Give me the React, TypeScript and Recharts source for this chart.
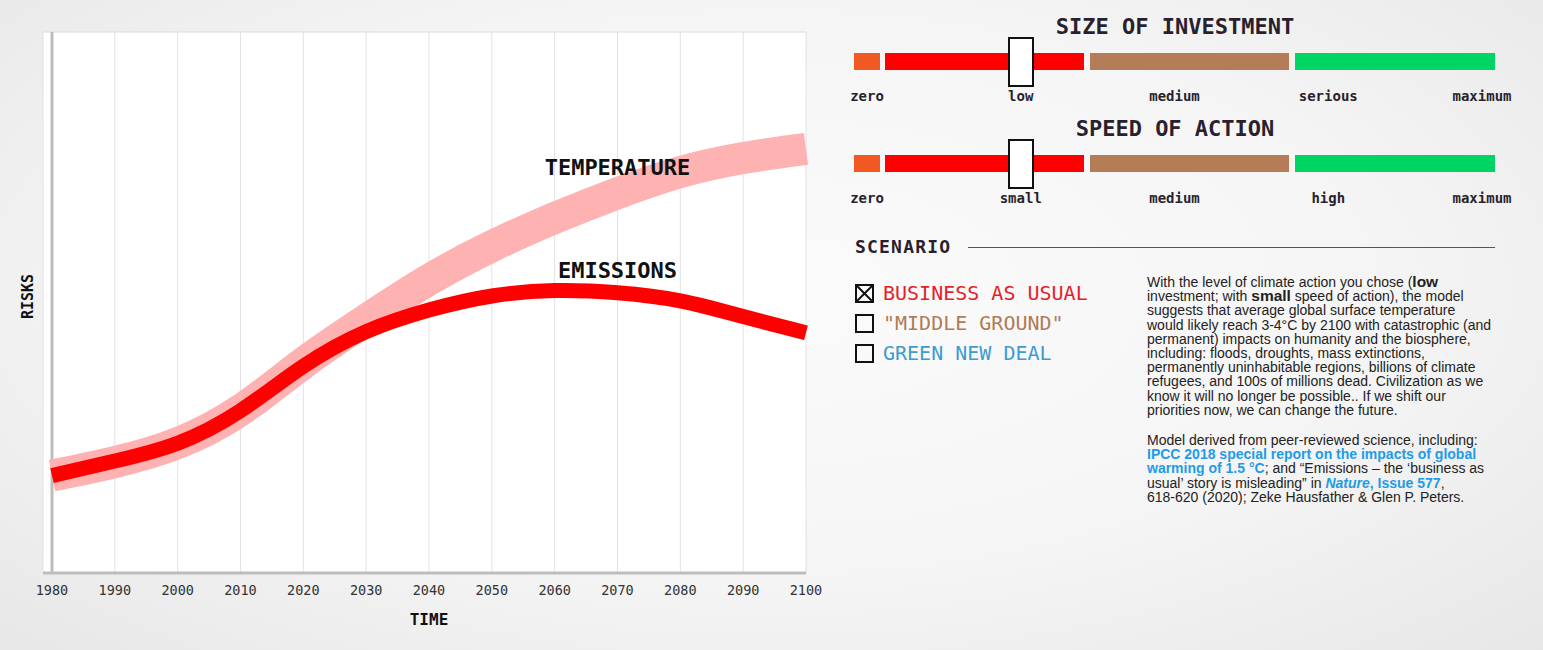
import React from "react";
import {
  CartesianGrid,
  Line,
  LineChart,
  ReferenceDot,
  ReferenceLine,
  XAxis,
  YAxis,
} from "recharts";

// model output, risk index per decade
const YEARS = [1980, 1990, 2000, 2010, 2020, 2030, 2040, 2050, 2060, 2070, 2080, 2090, 2100];
const TEMPERATURE = [18, 20.5, 24, 30.1, 38.8, 46.8, 54.2, 60.4, 65.6, 70.2, 74.1, 76.7, 78.4];
const EMISSIONS = [18, 20.7, 24, 30, 38.2, 44.6, 48.6, 51.2, 52.2, 51.8, 50.3, 47.4, 44.4];

const INVESTMENT_STOPS = ["zero", "low", "medium", "serious", "maximum"];
const SPEED_STOPS = ["zero", "small", "medium", "high", "maximum"];
const SELECTED_STOP = 1;

const SCENARIOS = ["BUSINESS AS USUAL", "\"MIDDLE GROUND\"", "GREEN NEW DEAL"];
const SCENARIO_COLORS = ["#e51f2a", "#b07b56", "#3d9bd0"];
const ACTIVE_SCENARIO = 0;

const rows = YEARS.map((year, i) => ({
  year,
  temperature: TEMPERATURE[i],
  emissions: EMISSIONS[i],
}));

const MONO = "'DejaVu Sans Mono', 'Liberation Mono', monospace";
const SANS = "'Liberation Sans', Arial, sans-serif";
const INK = "#2a1f2d";
const LINK = "#1e9be9";

// slider geometry (page coordinates)
const STOP_START = 867;
const STOP_STEP = 153.75;
const SEGMENTS = [
  { left: 854, width: 26, color: "#f05a22" },
  { left: 885, width: 199, color: "#ff0000" },
  { left: 1090, width: 199, color: "#b47d58" },
  { left: 1295, width: 200, color: "#00d563" },
];

function Slider({ title, stops, selected, top }: { title: string; stops: string[]; selected: number; top: number }) {
  const handleX = STOP_START + STOP_STEP * selected;
  return (
    <>
      <div
        style={{
          position: "absolute",
          left: 850,
          width: 650,
          top: top - 13,
          lineHeight: "26px",
          textAlign: "center",
          fontFamily: MONO,
          fontWeight: 700,
          fontSize: 22,
          color: INK,
        }}
      >
        {title}
      </div>
      {SEGMENTS.map((s, i) => (
        <div
          key={i}
          style={{ position: "absolute", left: s.left, width: s.width, top: top + 26, height: 17, background: s.color }}
        />
      ))}
      <div
        style={{
          position: "absolute",
          left: handleX - 13,
          top: top + 10,
          width: 22,
          height: 46,
          background: "#fff",
          border: "2px solid #111",
        }}
      />
      {stops.map((label, i) => (
        <div
          key={label + i}
          style={{
            position: "absolute",
            left: STOP_START + STOP_STEP * i - 50,
            width: 100,
            top: top + 60,
            lineHeight: "18px",
            textAlign: "center",
            fontFamily: MONO,
            fontWeight: 700,
            fontSize: 14,
            color: INK,
          }}
        >
          {label}
        </div>
      ))}
    </>
  );
}

function Checkbox({ checked }: { checked: boolean }) {
  return (
    <svg width={19} height={19} style={{ display: "block" }}>
      <rect x={1} y={1} width={17} height={17} fill="none" stroke="#111" strokeWidth={2} />
      {checked && (
        <>
          <line x1={2} y1={2} x2={17} y2={17} stroke="#111" strokeWidth={2} />
          <line x1={17} y1={2} x2={2} y2={17} stroke="#111" strokeWidth={2} />
        </>
      )}
    </svg>
  );
}

const b = (t: string) => <b style={{ fontSize: 15.5 }}>{t}</b>;
const link = (t: string, italic = false) => (
  <span style={{ color: LINK, fontWeight: 700, fontStyle: italic ? "italic" : "normal" }}>{t}</span>
);

const SUMMARY_LINES: React.ReactNode[] = [
  <>With the level of climate action you chose ({b("low")}</>,
  <>investment; with {b("small")} speed of action), the model</>,
  "suggests that average global surface temperature",
  "would likely reach 3-4°C by 2100 with catastrophic (and",
  "permanent) impacts on humanity and the biosphere,",
  "including: floods, droughts, mass extinctions,",
  "permanently uninhabitable regions, billions of climate",
  "refugees, and 100s of millions dead. Civilization as we",
  "know it will no longer be possible.. If we shift our",
  "priorities now, we can change the future.",
];

const SOURCE_LINES: React.ReactNode[] = [
  "Model derived from peer-reviewed science, including:",
  link("IPCC 2018 special report on the impacts of global"),
  <>{link("warming of 1.5 °C")}; and “Emissions – the ‘business as</>,
  <>usual’ story is misleading” in {link("Nature", true)}{link(", Issue 577")},</>,
  "618-620 (2020); Zeke Hausfather & Glen P. Peters.",
];

function TextBlock({ lines, top }: { lines: React.ReactNode[]; top: number }) {
  return (
    <div
      style={{
        position: "absolute",
        left: 1147,
        top,
        fontFamily: SANS,
        fontSize: 14,
        lineHeight: "14.2px",
        color: "#222",
        whiteSpace: "nowrap",
      }}
    >
      {lines.map((l, i) => (
        <div key={i}>{l}</div>
      ))}
    </div>
  );
}

const curveLabel = (text: string) => (props: any) => {
  const { viewBox } = props;
  const cx = viewBox.x + viewBox.width / 2;
  const cy = viewBox.y + viewBox.height / 2;
  return (
    <text x={cx} y={cy} textAnchor="middle" dominantBaseline="central" fontFamily={MONO} fontWeight={700} fontSize={22} fill="#111">
      {text}
    </text>
  );
};

export default function App() {
  return (
    <div
      style={{
        position: "absolute",
        left: 0,
        top: 0,
        width: 1543,
        height: 650,
        overflow: "hidden",
        background: "radial-gradient(ellipse at 50% 45%, #fbfbfb 0%, #f5f5f5 55%, #e7e7e7 100%)",
      }}
    >
      <div style={{ position: "absolute", left: 0, top: 0 }}>
        <LineChart width={830} height={650} data={rows} margin={{ top: 32, right: 24, bottom: 32, left: 0 }}>
          <CartesianGrid horizontal={false} stroke="#e2e2e2" fill="#ffffff" />
          <XAxis
            dataKey="year"
            type="number"
            domain={[1980, 2100]}
            ticks={YEARS}
            interval={0}
            padding={{ left: 9, right: 0 }}
            height={45}
            axisLine={{ stroke: "#bdbdbd", strokeWidth: 3 }}
            tickLine={false}
            tickSize={6}
            tickMargin={6}
            tick={{ fill: "#333", fontSize: 13.5, fontFamily: MONO }}
            label={(props: any) => {
              const vb = props.viewBox;
              return (
                <text
                  x={vb.x + 9 + (vb.width - 9) / 2}
                  y={vb.y + 46}
                  textAnchor="middle"
                  dominantBaseline="central"
                  fontFamily={MONO}
                  fontWeight={700}
                  fontSize={16}
                  fill="#111"
                >
                  TIME
                </text>
              );
            }}
          />
          <YAxis
            domain={[0, 100]}
            width={43}
            tick={false}
            tickLine={false}
            axisLine={false}
            label={(props: any) => {
              const vb = props.viewBox;
              const x = vb.x + 28;
              const y = vb.y + vb.height / 2 - 6;
              return (
                <text
                  x={x}
                  y={y}
                  transform={`rotate(-90 ${x} ${y})`}
                  textAnchor="middle"
                  dominantBaseline="central"
                  fontFamily={MONO}
                  fontWeight={700}
                  fontSize={15}
                  fill="#111"
                >
                  RISKS
                </text>
              );
            }}
          />
          <ReferenceLine y={100} stroke="#dcdcdc" />
          <ReferenceLine x={1980} stroke="#bdbdbd" strokeWidth={3} />
          <Line
            type="natural"
            dataKey="temperature"
            stroke="#ffb2b2"
            strokeWidth={32}
            dot={false}
            activeDot={false}
            isAnimationActive={false}
          />
          <Line
            type="natural"
            dataKey="emissions"
            stroke="#ff0000"
            strokeWidth={15}
            dot={false}
            activeDot={false}
            isAnimationActive={false}
          />
          <ReferenceDot x={2070} y={74.9} r={0} fill="none" stroke="none" label={curveLabel("TEMPERATURE")} />
          <ReferenceDot x={2070} y={56} r={0} fill="none" stroke="none" label={curveLabel("EMISSIONS")} />
        </LineChart>
      </div>

      <Slider title="SIZE OF INVESTMENT" stops={INVESTMENT_STOPS} selected={SELECTED_STOP} top={27} />
      <Slider title="SPEED OF ACTION" stops={SPEED_STOPS} selected={SELECTED_STOP} top={129} />

      <div
        style={{
          position: "absolute",
          left: 855,
          top: 237,
          lineHeight: "20px",
          fontFamily: MONO,
          fontWeight: 700,
          fontSize: 18,
          letterSpacing: 1.2,
          color: INK,
        }}
      >
        SCENARIO
      </div>
      <div style={{ position: "absolute", left: 968, width: 527, top: 247, height: 1, background: "#555" }} />

      {SCENARIOS.map((name, i) => (
        <div
          key={name}
          style={{
            position: "absolute",
            left: 855,
            top: 283 + i * 30,
            height: 20,
            display: "flex",
            alignItems: "center",
            gap: 9,
          }}
        >
          <Checkbox checked={i === ACTIVE_SCENARIO} />
          <span style={{ fontFamily: MONO, fontSize: 20, color: SCENARIO_COLORS[i], lineHeight: "20px" }}>{name}</span>
        </div>
      ))}

      <TextBlock lines={SUMMARY_LINES} top={275} />
      <TextBlock lines={SOURCE_LINES} top={433} />
    </div>
  );
}
